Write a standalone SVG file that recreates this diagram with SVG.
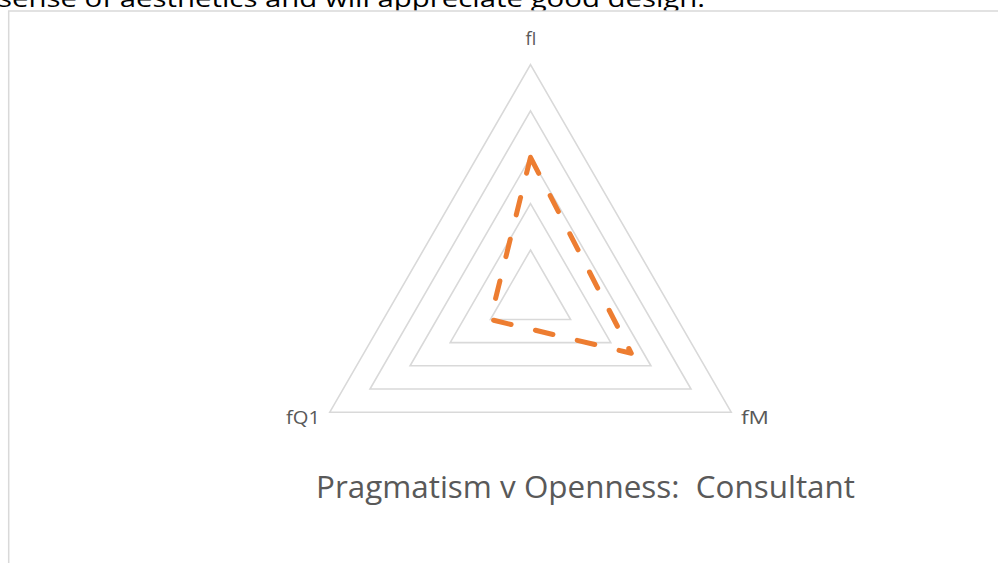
<svg xmlns="http://www.w3.org/2000/svg" width="998" height="563" viewBox="0 0 998 563">
<style>
.grid{fill:none;stroke:#D9D9D9;stroke-width:1.6}
.lbl{font-family:"Open Sans","Liberation Sans",sans-serif;font-size:18px;fill:#595959}
.data{fill:none;stroke:#ED7D31;stroke-width:5;stroke-linecap:round;stroke-linejoin:round;stroke-dasharray:18 25}
</style>
<rect width="998" height="563" fill="#FFFFFF"/>
<text x="-2" y="7" font-family="Open Sans, Liberation Sans, sans-serif" font-size="24" fill="#000000" textLength="707" lengthAdjust="spacingAndGlyphs">sense of aesthetics and will appreciate good design.</text>
<rect x="8.7" y="11" width="1000" height="600" fill="#FFFFFF" stroke="#D9D9D9" stroke-width="1.5"/>
<g id="grid">
<polygon class="grid" points="530.5,64.6 731.2,412.2 329.8,412.2"/>
<polygon class="grid" points="530.5,110.9 691.0,389.0 370.0,389.0"/>
<polygon class="grid" points="530.5,157.3 650.9,365.8 410.1,365.8"/>
<polygon class="grid" points="530.5,203.6 610.8,342.6 450.2,342.6"/>
<polygon class="grid" points="530.5,250.0 570.6,319.5 490.4,319.5"/>
</g>
<g id="connectors">
<path class="data" d="M530.5,157.3 L631.3,353.3 L490.4,319.5 Z"/>
</g>
<g id="node-fI"><text class="lbl" x="531" y="45" text-anchor="middle">fI</text></g>
<g id="node-fQ1"><text class="lbl" x="303" y="424" text-anchor="middle" textLength="34" lengthAdjust="spacingAndGlyphs">fQ1</text></g>
<g id="node-fM"><text class="lbl" x="755" y="424" text-anchor="middle" textLength="28" lengthAdjust="spacingAndGlyphs">fM</text></g>
<g id="title"><text x="316" y="498" font-family="Open Sans, Liberation Sans, sans-serif" font-size="31" fill="#595959" xml:space="preserve" style="white-space:pre" textLength="539" lengthAdjust="spacingAndGlyphs">Pragmatism v Openness:  Consultant</text></g>
</svg>
